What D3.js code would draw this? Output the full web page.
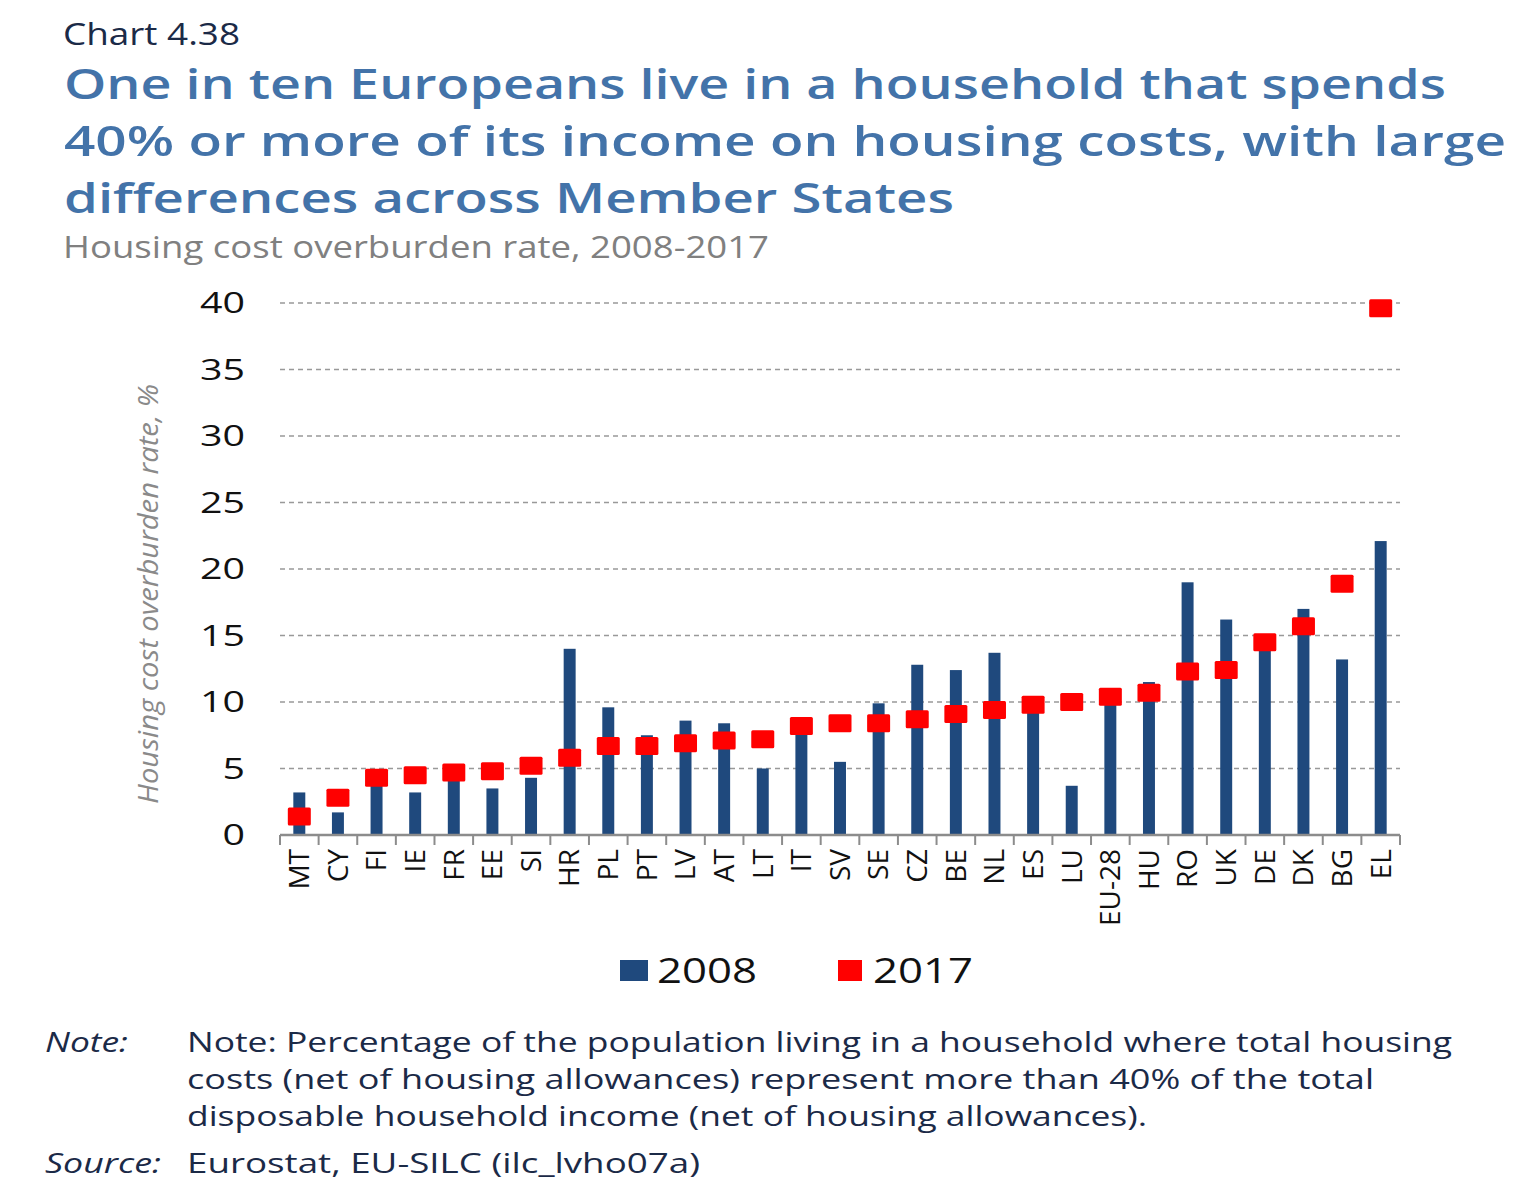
<!DOCTYPE html>
<html><head><meta charset="utf-8">
<script src="https://cdn.jsdelivr.net/npm/d3@7"></script>
<style>
html,body{margin:0;padding:0;background:#fff;}
svg text{font-family:"Open Sans","Noto Sans",sans-serif;}
</style></head>
<body>
<svg id="c" width="1538" height="1181"></svg>
<script>
const categories = ["MT","CY","FI","IE","FR","EE","SI","HR","PL","PT","LV","AT","LT","IT","SV","SE","CZ","BE","NL","ES","LU","EU-28","HU","RO","UK","DE","DK","BG","EL"];
const values2008 = [3.2,1.7,4.2,3.2,4.5,3.5,4.3,14.0,9.6,7.5,8.6,8.4,5.0,8.0,5.5,9.9,12.8,12.4,13.7,9.5,3.7,10.2,11.5,19.0,16.2,14.2,17.0,13.2,22.1];
const values2017 = [1.4,2.8,4.3,4.5,4.7,4.8,5.2,5.8,6.7,6.7,6.9,7.1,7.2,8.2,8.4,8.4,8.7,9.1,9.4,9.8,10.0,10.4,10.7,12.3,12.4,14.5,15.7,18.9,39.6];
const yTicks = [0,5,10,15,20,25,30,35,40];
const seriesNames = ["2008","2017"];
const titleLines = ["One in ten Europeans live in a household that spends","40% or more of its income on housing costs, with large","differences across Member States"];
const noteLines = ["Note: Percentage of the population living in a household where total housing","costs (net of housing allowances) represent more than 40% of the total","disposable household income (net of housing allowances)."];

const svg = d3.select("#c");
const L=280, R=1400, T=303, B=835;
const x = d3.scaleBand().domain(categories).range([L,R]).paddingInner(0.69).paddingOuter(0.345);
const y = d3.scaleLinear().domain([0,40]).range([B,T]);
const barColor="#1f497d", dotColor="#ff0000", navy="#1b2a47";

// Header texts
svg.append("text").attr("x",63).attr("y",45).attr("font-size",31).attr("fill",navy)
  .attr("textLength",177).attr("lengthAdjust","spacingAndGlyphs").text("Chart 4.38");
const tw=[1382,1442,890];
titleLines.forEach((t,i)=>{
  svg.append("text").attr("x",64).attr("y",99+i*57).attr("font-size",42).attr("font-weight",600)
    .attr("fill","#4373a9").attr("textLength",tw[i]).attr("lengthAdjust","spacingAndGlyphs").text(t);
});
svg.append("text").attr("x",63).attr("y",258).attr("font-size",31).attr("fill","#808080")
  .attr("textLength",706).attr("lengthAdjust","spacingAndGlyphs").text("Housing cost overburden rate, 2008-2017");

// gridlines
svg.append("g").selectAll("line").data(yTicks.filter(d=>d>0)).join("line")
  .attr("x1",L).attr("x2",R).attr("y1",d=>y(d)).attr("y2",d=>y(d))
  .attr("stroke","#999").attr("stroke-width",1.3).attr("stroke-dasharray","5,4");

// y tick labels
svg.append("g").selectAll("text").data(yTicks).join("text")
  .attr("x",245).attr("y",d=>y(d)).attr("dy","0.35em").attr("text-anchor","end")
  .attr("font-size",29).attr("fill","#111")
  .attr("textLength",d=>String(d).length*22.5).attr("lengthAdjust","spacingAndGlyphs").text(d=>d);

// y axis title
svg.append("text").attr("transform",`translate(158,${(y(0)+y(40))/2+25}) rotate(-90)`)
  .attr("text-anchor","middle").attr("font-size",28).attr("font-style","italic").attr("fill","#8a8a8a")
  .attr("textLength",420).attr("lengthAdjust","spacingAndGlyphs").text("Housing cost overburden rate, %");

// bars
svg.append("g").selectAll("rect").data(categories).join("rect")
  .attr("x",(d)=>x(d)).attr("width",x.bandwidth())
  .attr("y",(d,i)=>y(values2008[i])).attr("height",(d,i)=>y(0)-y(values2008[i]))
  .attr("fill",barColor);

// axis line & ticks
svg.append("line").attr("x1",L).attr("x2",R).attr("y1",B).attr("y2",B).attr("stroke","#8c8c8c").attr("stroke-width",2.5);
const step=x.step();
svg.append("g").selectAll("line").data(d3.range(categories.length+1)).join("line")
  .attr("x1",i=>L+i*step).attr("x2",i=>L+i*step).attr("y1",B).attr("y2",B+10)
  .attr("stroke","#8c8c8c").attr("stroke-width",2);

// markers 2017
const mw=23, mh=18;
svg.append("g").selectAll("rect").data(categories).join("rect")
  .attr("x",d=>x(d)+x.bandwidth()/2-mw/2).attr("width",mw)
  .attr("y",(d,i)=>y(values2017[i])-mh/2).attr("height",mh).attr("rx",1.5)
  .attr("fill",dotColor);

// x labels
svg.append("g").selectAll("text").data(categories).join("text")
  .attr("transform",d=>`translate(${x(d)+x.bandwidth()/2},${B+14}) rotate(-90)`)
  .attr("text-anchor","end").attr("dy","0.35em").attr("font-size",28).attr("fill","#111").text(d=>d);

// legend
const lg=svg.append("g");
const legItems=[{n:seriesNames[0],c:barColor,x:620},{n:seriesNames[1],c:dotColor,x:838}];
legItems.forEach(it=>{
  lg.append("rect").attr("x",it.x).attr("y",960).attr("width",it.n==="2008"?28:24).attr("height",21).attr("fill",it.c);
  lg.append("text").attr("x",it.x+(it.n==="2008"?37:35)).attr("y",983).attr("font-size",35).attr("fill","#111")
    .attr("textLength",100).attr("lengthAdjust","spacingAndGlyphs").text(it.n);
});

// notes
svg.append("text").attr("x",45).attr("y",1052).attr("font-size",28).attr("font-style","italic").attr("fill",navy)
  .attr("textLength",83).attr("lengthAdjust","spacingAndGlyphs").text("Note:");
const nw=[1265,1187,960];
noteLines.forEach((t,i)=>{
  svg.append("text").attr("x",187).attr("y",1052+i*37).attr("font-size",28).attr("fill",navy)
    .attr("textLength",nw[i]).attr("lengthAdjust","spacingAndGlyphs").text(t);
});
svg.append("text").attr("x",45).attr("y",1173).attr("font-size",28).attr("font-style","italic").attr("fill",navy)
  .attr("textLength",116).attr("lengthAdjust","spacingAndGlyphs").text("Source:");
svg.append("text").attr("x",187).attr("y",1173).attr("font-size",28).attr("fill",navy)
  .attr("textLength",513).attr("lengthAdjust","spacingAndGlyphs").text("Eurostat, EU-SILC (ilc_lvho07a)");
</script>
</body></html>
